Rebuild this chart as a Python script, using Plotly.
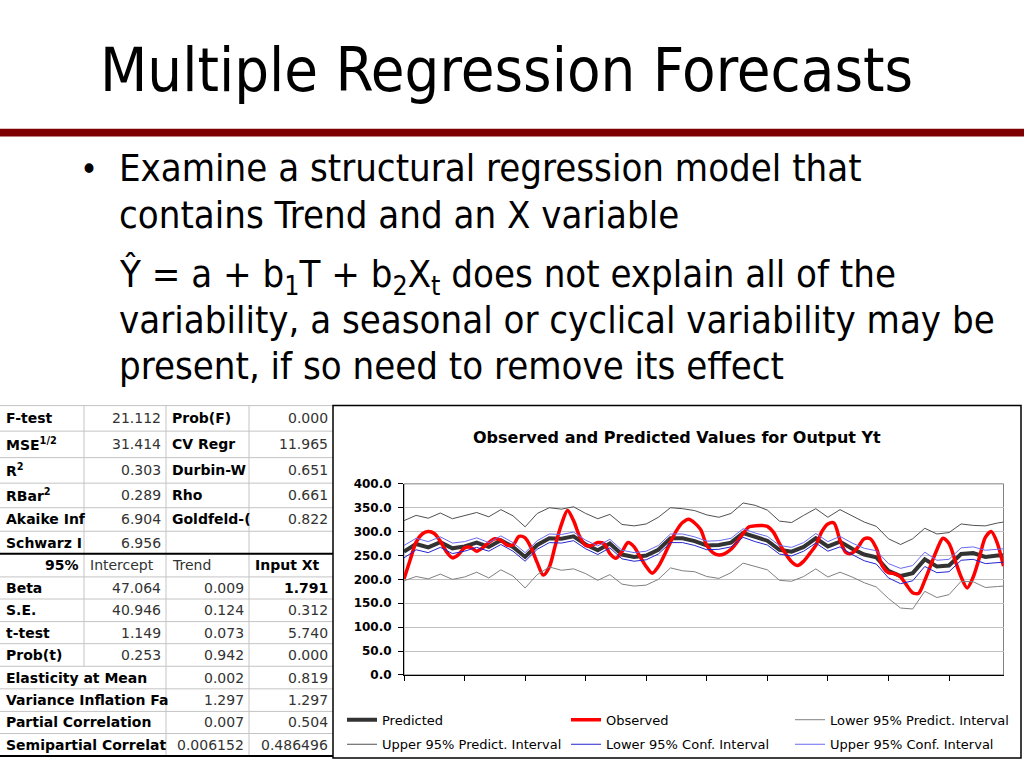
import plotly.graph_objects as go

W, H = 1024, 768


def fx(x):
    return x / W


def fy(y):
    return 1 - y / H


# ---------------- chart data ----------------
t_model = [1, 3, 5, 7, 9, 11, 13, 15, 17, 19, 21, 23, 25, 27, 29, 31, 33, 35, 37, 39,
           41, 43, 45, 47, 49, 51, 53, 55, 57, 59, 61, 63, 65, 67, 69, 71, 73, 75, 77, 79,
           81, 83, 85, 87, 89, 91, 93, 95, 97, 99, 100]
predicted = [258, 274, 267, 278, 265, 269, 277, 268, 282, 268,
             247, 272, 286, 285, 290, 273, 261, 275, 252, 247,
             250, 262, 286, 286, 280, 271, 272, 277, 297, 288,
             281, 262, 258, 268, 286, 269, 279, 264, 252, 246,
             218, 207, 213, 242, 227, 229, 253, 255, 247, 250, 250]
upper_pi = [323, 334, 328, 339, 327, 333, 340, 331, 346, 333,
            310, 338, 350, 347, 352, 338, 327, 336, 315, 312,
            316, 330, 350, 348, 344, 335, 330, 338, 360, 355,
            345, 322, 319, 334, 348, 330, 346, 333, 320, 311,
            285, 273, 285, 307, 295, 298, 316, 313, 312, 318, 320]
lower_pi = [197, 206, 201, 211, 200, 205, 215, 203, 220, 207,
            182, 210, 226, 219, 222, 212, 198, 210, 190, 186,
            188, 200, 224, 218, 216, 206, 202, 214, 234, 227,
            220, 198, 196, 206, 222, 205, 215, 205, 193, 184,
            160, 140, 138, 175, 162, 168, 196, 195, 183, 185, 186]
upper_ci = [271, 286, 279, 289, 276, 279, 287, 277, 291, 277,
            256, 281, 295, 294, 299, 282, 270, 284, 261, 256,
            259, 271, 295, 295, 289, 280, 281, 286, 306, 297,
            290, 271, 267, 277, 296, 279, 290, 276, 265, 260,
            233, 223, 229, 257, 240, 242, 266, 268, 261, 264, 264]
lower_ci = [245, 262, 256, 267, 254, 259, 267, 259, 273, 259,
            238, 263, 277, 276, 281, 264, 252, 266, 243, 238,
            241, 253, 277, 277, 271, 262, 263, 268, 288, 279,
            272, 253, 249, 259, 276, 259, 268, 252, 239, 232,
            203, 191, 197, 227, 214, 216, 240, 242, 233, 236, 236]

t_obs = list(range(1, 101))
observed = [201, 240, 278, 295, 300, 296, 280, 258, 245, 252,
            266, 267, 259, 266, 277, 285, 282, 272, 272, 290,
            287, 266, 235, 209, 226, 272, 315, 344, 323, 290,
            271, 271, 277, 275, 254, 244, 258, 277, 268, 247,
            227, 213, 227, 251, 278, 302, 319, 326, 318, 304,
            271, 256, 251, 254, 263, 278, 296, 310, 312, 313,
            311, 299, 275, 254, 237, 229, 238, 254, 271, 300,
            316, 318, 282, 256, 255, 268, 285, 285, 265, 228,
            214, 212, 205, 188, 172, 171, 198, 230, 262, 286,
            275, 240, 205, 182, 205, 245, 288, 300, 275, 228]

y_ticks = [0, 50, 100, 150, 200, 250, 300, 350, 400]
x_ticks = [1, 11, 21, 31, 41, 51, 61, 71, 81, 91]

chart_title = "Observed and Predicted Values for Output Yt"
series_names = ["Predicted", "Observed", "Lower 95% Predict. Interval",
                "Upper 95% Predict. Interval", "Lower 95% Conf. Interval",
                "Upper 95% Conf. Interval"]

# ---------------- table data ----------------
stat_labels = ["F-test", "MSE<sup>1/2</sup>", "R<sup>2</sup>", "RBar<sup>2</sup>",
               "Akaike Inf", "Schwarz I"]
stat_values = ["21.112", "31.414", "0.303", "0.289", "6.904", "6.956"]
stat_labels2 = ["Prob(F)", "CV Regr", "Durbin-W", "Rho", "Goldfeld-(", ""]
stat_values2 = ["0.000", "11.965", "0.651", "0.661", "0.822", ""]
coef_header = ["95%", "Intercept", "Trend", "Input Xt"]
coef_labels = ["Beta", "S.E.", "t-test", "Prob(t)"]
intercept_vals = ["47.064", "40.946", "1.149", "0.253"]
wide_labels = ["Elasticity at Mean", "Variance Inflation Fa",
               "Partial Correlation", "Semipartial Correlat"]
trend_vals = ["0.009", "0.124", "0.073", "0.942", "0.002", "1.297", "0.007", "0.006152"]
input_vals = ["1.791", "0.312", "5.740", "0.000", "0.819", "1.297", "0.504", "0.486496"]

# ---------------- slide text ----------------
slide_title = "Multiple Regression Forecasts"
bullet_lines = [
    "Examine a structural regression model that",
    "contains Trend and an X variable",
    "Ŷ = a + b<sub>1</sub>T + b<sub>2</sub>X<sub>t</sub> does not explain all of the",
    "variability, a seasonal or cyclical variability may be",
    "present, if so need to remove its effect",
]

# ---------------- figure ----------------
fig = go.Figure()

line_styles = [
    dict(color="#333333", width=4),
    dict(color="#FF0000", width=3.5, shape="spline", smoothing=0.8),
    dict(color="#808080", width=1),
    dict(color="#505050", width=1),
    dict(color="#2424D0", width=1),
    dict(color="#6A6AF2", width=1),
]
series = [(t_model, predicted), (t_obs, observed), (t_model, lower_pi),
          (t_model, upper_pi), (t_model, lower_ci), (t_model, upper_ci)]
for k, ((xs, ys), name, ls) in enumerate(zip(series, series_names, line_styles)):
    fig.add_trace(go.Scatter(
        x=xs, y=ys, mode="lines", name=name, line=ls,
        legend="legend" if k < 3 else "legend2", hoverinfo="skip"))

TEXT_FONT = "DejaVu Sans Condensed, DejaVu Sans, sans-serif"
TABLE_FONT = "DejaVu Sans, Liberation Sans, sans-serif"

annotations = []
shapes = []

# slide title
annotations.append(dict(x=fx(98), y=fy(64), xref="paper", yref="paper", text=slide_title,
                        showarrow=False, xanchor="left", yanchor="middle",
                        font=dict(family=TEXT_FONT, size=61, color="black")))
# rule
shapes.append(dict(type="rect", xref="paper", yref="paper", x0=0, x1=1,
                   y0=fy(132), y1=fy(124), fillcolor="#7F0000", line=dict(width=0)))
# bullet text
line_y = [164, 212, 275, 319, 366]
annotations.append(dict(x=fx(78), y=fy(165), xref="paper", yref="paper", text="•",
                        showarrow=False, xanchor="left", yanchor="middle",
                        font=dict(family=TEXT_FONT, size=34, color="black")))
for txt, yy in zip(bullet_lines, line_y):
    annotations.append(dict(x=fx(117), y=fy(yy), xref="paper", yref="paper", text=txt,
                            showarrow=False, xanchor="left", yanchor="middle",
                            font=dict(family=TEXT_FONT, size=38, color="black")))

# ---- table ----
col_x = [0, 84, 166, 249, 333]
row_b = [406, 432, 459, 485, 510, 534, 557, 580.5, 603, 626, 648.5, 671.5,
         694.5, 717.5, 740, 763]
row_c = [(row_b[i] + row_b[i + 1]) / 2 for i in range(len(row_b) - 1)]
GRID = "#C4C4C4"
for i, yb in enumerate(row_b):
    if yb in (557, 763):
        continue
    shapes.append(dict(type="line", xref="paper", yref="paper", x0=0, x1=fx(333),
                       y0=fy(yb), y1=fy(yb), line=dict(color=GRID, width=1)))
shapes.append(dict(type="line", xref="paper", yref="paper", x0=fx(84), x1=fx(84),
                   y0=fy(406), y1=fy(671.5), line=dict(color=GRID, width=1)))
for xc in (166, 249):
    shapes.append(dict(type="line", xref="paper", yref="paper", x0=fx(xc), x1=fx(xc),
                       y0=fy(406), y1=fy(763), line=dict(color=GRID, width=1)))
for yb in (557, 763):
    shapes.append(dict(type="line", xref="paper", yref="paper", x0=0, x1=fx(333),
                       y0=fy(yb), y1=fy(yb), line=dict(color="black", width=2)))


def cell(text, col, row, align="left", bold=False, color="#000000"):
    if not text:
        return
    if bold:
        text = "<b>" + text + "</b>"
    if align == "left":
        x, xa = col_x[col] + 4, "left"
    else:
        x, xa = col_x[col + 1] - 3, "right"
    annotations.append(dict(x=fx(x), y=fy(row_c[row]), xref="paper", yref="paper",
                            text=text, showarrow=False, xanchor=xa, yanchor="middle",
                            font=dict(family=TABLE_FONT, size=14, color=color)))


NUM = "#333333"
for r in range(6):
    cell(stat_labels[r], 0, r, bold=True)
    cell(stat_values[r], 1, r, align="right", color=NUM)
    cell(stat_labels2[r], 2, r, bold=True)
    cell(stat_values2[r], 3, r, align="right", color=NUM)
cell(coef_header[0], 0, 6, align="right", bold=True)
cell(coef_header[1], 1, 6, color=NUM)
cell(coef_header[2], 2, 6, color=NUM)
cell(coef_header[3], 3, 6, bold=True)
for r in range(4):
    cell(coef_labels[r], 0, 7 + r, bold=True)
    cell(intercept_vals[r], 1, 7 + r, align="right", color=NUM)
for r in range(4):
    cell(wide_labels[r], 0, 11 + r, bold=True)
for r in range(8):
    cell(trend_vals[r], 2, 7 + r, align="right", color=NUM)
    cell(input_vals[r], 3, 7 + r, align="right", bold=(r == 0), color=NUM if r else "#000000")

# chart frame
shapes.append(dict(type="rect", xref="paper", yref="paper", x0=fx(333), x1=fx(1021),
                   y0=fy(765), y1=fy(406), line=dict(color="black", width=1.5)))
# plot-area border
shapes.append(dict(type="rect", xref="x domain", yref="y domain", x0=0, x1=1, y0=0, y1=1,
                   line=dict(color="#808080", width=1), layer="below"))

# chart title
annotations.append(dict(x=fx(677), y=fy(438), xref="paper", yref="paper", text="<b>" + chart_title + "</b>",
                        showarrow=False, xanchor="center", yanchor="middle",
                        font=dict(family=TABLE_FONT, size=16, color="black")))

legend_common = dict(orientation="h", x=fx(342), xanchor="left", yanchor="middle",
                     entrywidth=179, entrywidthmode="pixels",
                     font=dict(family=TABLE_FONT, size=13, color="black"),
                     bgcolor="rgba(0,0,0,0)", borderwidth=0)

fig.update_layout(
    width=W, height=H, margin=dict(l=0, r=0, t=0, b=0),
    paper_bgcolor="white", plot_bgcolor="white",
    showlegend=True,
    legend=dict(y=fy(726), **legend_common),
    legend2=dict(y=fy(751), **legend_common),
    annotations=annotations, shapes=shapes,
    xaxis=dict(domain=[fx(404), fx(1003.5)], range=[1, 100], tickvals=x_ticks,
               showticklabels=False, ticks="outside", ticklen=5, tickcolor="black",
               showgrid=False, zeroline=False, showline=True, linecolor="black", linewidth=1,
               fixedrange=True),
    yaxis=dict(domain=[1 - 680.3 / H, 1 - 485.7 / H], range=[0, 400], tickvals=y_ticks,
               tickformat=".1f", ticks="outside", ticklen=5, tickcolor="black",
               ticklabelstandoff=4,
               tickfont=dict(family=TABLE_FONT, size=12, color="black", weight="bold"),
               showgrid=True, gridcolor="#C0C0C0", gridwidth=1, zeroline=False,
               showline=True, linecolor="black", linewidth=1, fixedrange=True),
)

fig.write_html("out.html", config={"displayModeBar": False},
               post_script="document.body.style.margin='0';document.body.style.overflow='hidden';")
